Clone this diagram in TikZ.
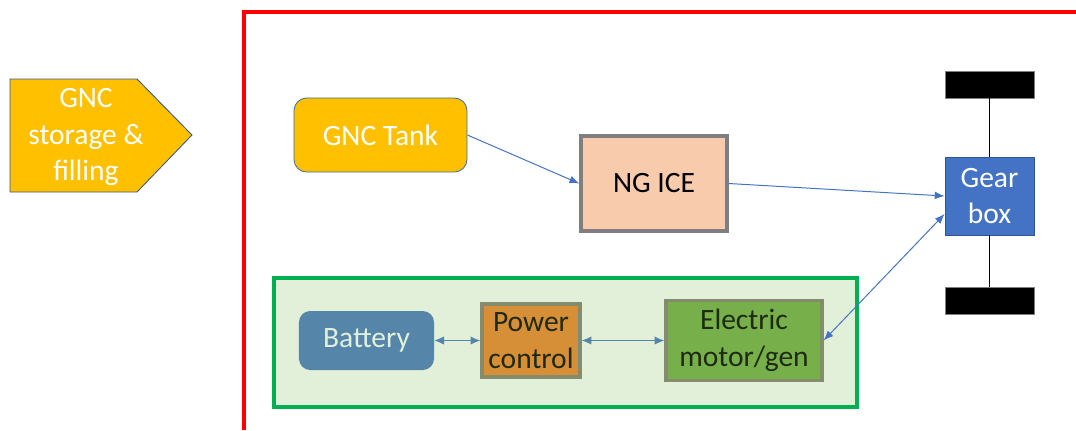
\documentclass[tikz,border=0pt]{standalone}
\usepackage{fontspec}
\setmainfont{Carlito}
\usepackage{xcolor}
\usepackage{tikz}
\usetikzlibrary{arrows.meta,positioning,calc}
\definecolor{GncGold}{HTML}{FFC000}
\definecolor{GncEdge}{HTML}{41719C}
\definecolor{IcePeach}{HTML}{F8CBAD}
\definecolor{BoxGrey}{HTML}{7F7F7F}
\definecolor{GearBlue}{HTML}{4472C4}
\definecolor{GearEdge}{HTML}{2F5597}
\definecolor{HybridGreen}{HTML}{00B050}
\definecolor{HybridFill}{HTML}{E2F0D9}
\definecolor{BattBlue}{HTML}{5585A9}
\definecolor{PowOrange}{HTML}{D68E37}
\definecolor{MotGreen}{HTML}{77B04A}
\definecolor{OliveEdge}{HTML}{858C6E}
\definecolor{DarkText}{HTML}{1F2A12}
\definecolor{FrameRed}{HTML}{FF0000}

\begin{document}
\begin{tikzpicture}[x=0.025cm,y=-0.025cm,
    txt/.style={font=\fontsize{21}{26}\selectfont,align=center,inner sep=0pt},
    flowline/.style={draw=GearBlue,line width=0.7pt,-{Latex[length=7pt,width=5.5pt]}},
    linkline/.style={draw=BattBlue,line width=0.8pt,{Latex[length=7pt,width=6pt]}-{Latex[length=7pt,width=6pt]}},
    wheel/.style={fill=black,draw=BoxGrey,line width=0.4pt,minimum width=2.225cm,minimum height=0.675cm,inner sep=0pt}]
    \useasboundingbox (0,0) rectangle (1076,430);
    % frame of the vehicle
    \draw[FrameRed,line width=3pt] (244,430) -- (244,12) -- (1076,12);
    % filling station
    \filldraw[fill=GncGold,draw=GearEdge,line width=0.6pt]
      (10,79) -- (137,79) -- (192,135) -- (137,192) -- (10,192) -- cycle;
    \node[txt,text=white] (station) at (86,137) {GNC\\storage \&\\filling};
    % gas path
    \node[txt,text=white,fill=GncGold,draw=GncEdge,line width=0.6pt,rounded corners=9pt,
      minimum width=4.325cm,minimum height=1.85cm] (tank) at (380.5,135) {GNC Tank};
    \node[txt,text=black,fill=IcePeach,draw=BoxGrey,line width=2.4pt,
      minimum width=3.65cm,minimum height=2.375cm] (ice) at (654,183.5) {NG ICE};
    \node[txt,text=white,fill=GearBlue,draw=GearEdge,line width=0.6pt,
      minimum width=2.225cm,minimum height=1.95cm] (gear) at (989.5,196) {Gear\\box};
    \node[wheel] (wheeltop) at (989.5,84.5) {};
    \node[wheel] (wheelbot) at (989.5,300.5) {};
    \draw[black,line width=0.7pt] (wheeltop) -- (gear);
    \draw[black,line width=0.7pt] (gear) -- (wheelbot);
    % electric path
    \filldraw[fill=HybridFill,draw=HybridGreen,line width=2.3pt] (274,278) rectangle (857,407);
    \node[txt,text=HybridFill,fill=BattBlue,rounded corners=8pt,
      minimum width=3.375cm,minimum height=1.475cm] (batt) at (366.5,340.5) {Battery};
    \node[txt,text=DarkText,fill=PowOrange,draw=OliveEdge,line width=2.3pt,
      minimum width=2.45cm,minimum height=1.825cm] (power) at (531,340.5) {Power\\control};
    \node[txt,text=DarkText,fill=MotGreen,draw=OliveEdge,line width=2.3pt,
      minimum width=3.9cm,minimum height=2cm] (motor) at (744,340.5) {Electric\\motor/gen};
    % connectors
    \draw[flowline] (tank.east) -- (ice.west);
    \draw[flowline] (ice.east) -- (gear.west);
    \draw[flowline,{Latex[length=7pt,width=5.5pt]}-{Latex[length=7pt,width=5.5pt]}] (motor.east) -- ([yshift=-0.45cm]gear.west);
    \draw[linkline] (batt.east) -- (power.west);
    \draw[linkline] (power.east) -- (motor.west);
\end{tikzpicture}
\end{document}
